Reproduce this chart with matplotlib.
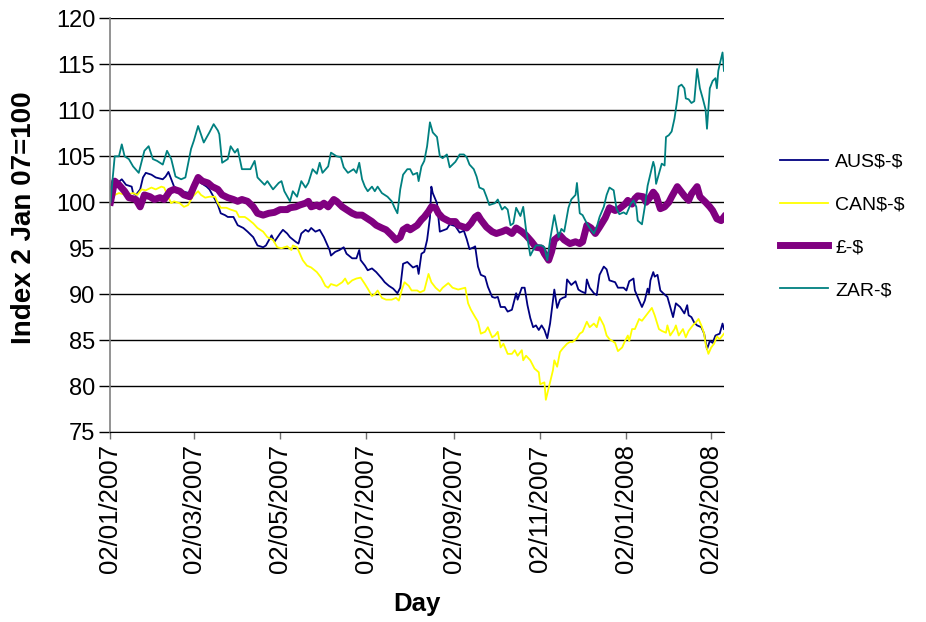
"""
Exchange rates against the US dollar, indexed to 2 Jan 2007 = 100.
"""

import matplotlib

matplotlib.use("Agg")
import matplotlib.dates as mdates
import matplotlib.pyplot as plt
import pandas as pd

plt.rcParams["font.family"] = ["Liberation Sans", "DejaVu Sans"]

START = pd.Timestamp("2007-01-02")
END_DAY = 434

# day offsets from 2 Jan 2007 and index values, one pair of lists per currency
aus_day = [0, 3, 5, 8, 11, 15, 16, 18, 21, 23, 25, 29, 32, 37, 39, 41, 43, 45, 50, 56,
           62, 65, 68, 70, 74, 76, 78, 81, 83, 87, 90, 94, 97, 101, 104, 108, 110, 114,
           116, 120, 122, 125, 127, 131, 133, 135, 138, 140, 142, 145, 148, 151, 153,
           155, 156, 159, 162, 165, 167, 171, 174, 176, 177, 180, 182, 185, 188, 192,
           194, 197, 200, 203, 205, 207, 210, 212, 214, 217, 218, 220, 222, 224, 226,
           227, 228, 231, 233, 238, 240, 244, 247, 250, 252, 254, 257, 258, 260, 262,
           265, 267, 270, 272, 274, 276, 279, 281, 284, 287, 288, 291, 293, 295, 297,
           299, 301, 303, 305, 307, 309, 311, 314, 316, 318, 320, 322, 323, 326, 329,
           331, 333, 336, 337, 339, 342, 344, 346, 349, 351, 353, 357, 359, 363, 365,
           367, 370, 371, 374, 376, 378, 380, 381, 382, 384, 385, 387, 389, 391, 394,
           396, 398, 400, 403, 406, 408, 409, 411, 413, 415, 418, 420, 422, 424, 426,
           428, 431, 433, 434]
aus_val = [100.0, 101.9, 102.1, 102.5, 101.9, 101.7, 101.0, 100.8, 101.4, 102.7, 103.2,
           103.0, 102.7, 102.5, 102.8, 103.3, 102.5, 101.7, 101.2, 101.0, 102.3, 102.0,
           101.7, 101.4, 100.3, 99.7, 98.8, 98.6, 98.4, 98.4, 97.5, 97.2, 96.8, 96.2,
           95.3, 95.1, 95.3, 96.4, 95.7, 96.6, 97.0, 96.6, 96.2, 95.7, 95.5, 96.6, 97.0,
           96.8, 97.2, 96.8, 97.0, 96.2, 95.5, 94.8, 94.2, 94.6, 94.8, 95.1, 94.4, 93.9,
           93.9, 94.8, 93.7, 93.1, 92.6, 92.8, 92.4, 91.7, 91.3, 90.9, 90.6, 90.1, 90.7,
           93.3, 93.5, 93.2, 92.9, 93.1, 92.2, 94.4, 94.6, 95.9, 98.3, 101.7, 101.0,
           99.9, 96.8, 97.1, 97.6, 97.4, 96.7, 96.9, 96.0, 94.9, 95.1, 95.2, 93.0, 92.1,
           91.9, 90.8, 89.7, 89.6, 89.7, 88.6, 88.6, 88.1, 88.3, 90.1, 89.4, 90.7, 90.7,
           88.8, 87.4, 86.4, 86.6, 86.1, 86.6, 86.1, 85.2, 86.8, 90.5, 88.5, 89.4, 89.6,
           89.7, 91.6, 91.0, 91.4, 90.5, 90.3, 90.1, 91.6, 90.7, 90.1, 89.9, 92.1, 93.0,
           92.7, 91.5, 91.3, 90.7, 90.7, 90.4, 91.4, 91.7, 90.4, 89.3, 88.6, 89.3, 90.6,
           90.1, 91.5, 92.4, 91.9, 92.1, 90.4, 90.1, 89.7, 88.6, 87.5, 89.0, 88.6, 87.9,
           88.8, 87.7, 87.5, 86.9, 86.6, 86.4, 85.7, 84.0, 84.9, 84.7, 85.5, 85.7, 86.8,
           86.2]

can_day = [0, 3, 6, 11, 16, 19, 22, 25, 29, 32, 36, 38, 41, 43, 45, 49, 52, 55, 58, 62,
           64, 67, 70, 74, 76, 78, 82, 85, 89, 91, 95, 97, 101, 104, 108, 111, 115, 118,
           121, 125, 128, 129, 132, 134, 136, 139, 142, 146, 149, 152, 154, 156, 160,
           164, 166, 168, 171, 174, 177, 180, 182, 185, 187, 189, 192, 195, 199, 202,
           204, 206, 208, 211, 213, 217, 219, 222, 225, 227, 230, 233, 235, 239, 242,
           246, 251, 253, 255, 258, 260, 262, 265, 267, 270, 272, 274, 276, 278, 281,
           284, 286, 288, 291, 292, 294, 297, 300, 303, 304, 307, 308, 311, 313, 314,
           316, 318, 320, 323, 325, 327, 330, 332, 334, 337, 339, 342, 344, 346, 349,
           351, 353, 357, 359, 362, 364, 366, 367, 369, 371, 374, 376, 378, 381, 383,
           385, 388, 390, 393, 394, 396, 399, 400, 402, 405, 407, 409, 412, 414, 416,
           418, 420, 421, 423, 425, 427, 429, 431, 433, 434]
can_val = [100.0, 100.8, 101.0, 100.8, 101.0, 100.8, 101.4, 101.3, 101.6, 101.4, 101.7,
           101.6, 100.5, 99.9, 100.1, 99.9, 99.5, 99.7, 100.6, 101.2, 100.8, 100.5,
           100.6, 100.6, 99.9, 99.4, 99.4, 99.2, 99.0, 98.4, 98.4, 98.2, 97.7, 97.2,
           96.8, 96.2, 95.9, 95.1, 95.0, 95.2, 94.8, 95.3, 95.1, 94.4, 93.7, 93.1, 92.9,
           92.4, 91.8, 90.9, 90.7, 91.1, 90.9, 91.3, 91.7, 91.1, 91.5, 91.7, 91.8, 91.1,
           90.6, 89.8, 90.0, 90.4, 89.6, 89.4, 89.4, 89.6, 89.3, 90.4, 91.3, 90.9, 90.4,
           90.4, 90.2, 90.4, 92.2, 91.3, 90.7, 90.3, 90.7, 91.2, 90.7, 90.5, 90.7, 89.0,
           88.3, 87.5, 87.0, 85.7, 85.9, 86.4, 85.3, 85.5, 85.9, 84.2, 84.6, 83.5, 83.5,
           83.9, 83.3, 83.9, 82.8, 83.3, 82.8, 81.9, 81.5, 80.2, 80.4, 78.5, 80.4, 81.7,
           82.8, 82.1, 83.7, 84.1, 84.6, 84.8, 84.8, 85.2, 85.7, 85.9, 87.0, 86.4, 86.8,
           86.4, 87.5, 86.6, 85.5, 85.1, 84.7, 83.8, 84.2, 84.9, 85.5, 84.9, 86.2, 86.2,
           87.3, 87.1, 87.5, 88.1, 88.5, 87.7, 86.2, 86.0, 85.8, 86.6, 85.5, 86.2, 86.6,
           85.5, 86.2, 85.3, 86.0, 86.6, 86.9, 87.3, 86.6, 85.7, 84.6, 83.5, 84.2, 84.6,
           85.4, 85.1, 85.5, 85.7]

gbp_day = [0, 3, 6, 10, 13, 18, 21, 24, 28, 31, 35, 38, 42, 45, 49, 52, 56, 59, 62, 65,
           69, 72, 76, 79, 83, 87, 90, 93, 97, 101, 104, 108, 112, 116, 120, 125, 127,
           131, 134, 138, 140, 142, 146, 148, 151, 154, 158, 160, 164, 167, 171, 174,
           178, 181, 185, 188, 192, 195, 199, 202, 205, 207, 210, 212, 214, 217, 220,
           222, 225, 227, 230, 232, 235, 240, 244, 246, 248, 252, 255, 258, 260, 262,
           266, 270, 273, 277, 280, 284, 287, 291, 294, 298, 301, 305, 307, 310, 312,
           314, 318, 321, 325, 329, 332, 334, 337, 340, 343, 346, 350, 353, 357, 360,
           364, 366, 369, 371, 373, 377, 379, 382, 384, 386, 389, 392, 395, 397, 401,
           403, 406, 409, 411, 415, 417, 421, 424, 426, 429, 432, 434]
gbp_val = [100.0, 102.3, 101.9, 101.2, 100.5, 100.3, 99.5, 100.8, 100.6, 100.3, 100.5,
           100.3, 101.2, 101.4, 101.2, 100.8, 100.6, 101.7, 102.7, 102.3, 102.1, 101.7,
           101.4, 100.8, 100.5, 100.3, 100.1, 100.3, 100.1, 99.5, 98.8, 98.6, 98.8, 98.9,
           99.2, 99.2, 99.4, 99.5, 99.7, 99.9, 100.1, 99.5, 99.7, 99.5, 99.9, 99.5,
           100.3, 100.1, 99.5, 99.2, 98.8, 98.6, 98.6, 98.3, 97.9, 97.5, 97.2, 97.0,
           96.4, 95.9, 96.2, 97.0, 97.3, 97.0, 97.2, 97.5, 98.1, 98.4, 99.0, 99.5, 99.4,
           98.8, 98.3, 97.9, 97.9, 97.5, 97.4, 97.2, 97.7, 98.4, 98.6, 98.1, 97.3, 96.8,
           96.6, 96.8, 97.0, 96.6, 97.2, 96.8, 96.4, 95.7, 95.1, 95.0, 94.4, 93.7, 94.6,
           95.9, 96.4, 95.9, 95.5, 95.7, 95.5, 95.7, 97.5, 97.2, 96.6, 97.3, 98.3, 99.4,
           99.1, 99.3, 99.8, 100.2, 99.8, 100.4, 100.7, 100.6, 100.0, 100.6, 101.1,
           100.7, 99.3, 99.5, 100.0, 100.6, 101.7, 101.3, 100.7, 100.2, 100.9, 101.7,
           100.6, 100.0, 99.5, 99.1, 98.2, 98.0, 98.4]

zar_day = [0, 3, 6, 8, 10, 13, 16, 20, 24, 27, 30, 33, 37, 40, 43, 46, 50, 53, 57, 59,
           62, 64, 66, 70, 73, 76, 77, 79, 83, 85, 88, 90, 93, 99, 102, 104, 109, 111,
           115, 119, 121, 123, 127, 129, 132, 135, 138, 140, 143, 146, 148, 150, 154,
           156, 160, 163, 165, 168, 172, 174, 176, 178, 180, 182, 185, 187, 189, 192,
           194, 196, 199, 201, 203, 205, 207, 210, 212, 214, 217, 218, 220, 222, 224,
           226, 228, 231, 233, 235, 238, 240, 244, 246, 247, 250, 252, 254, 257, 259,
           261, 264, 266, 268, 272, 274, 277, 279, 281, 283, 285, 287, 290, 292, 294,
           297, 299, 301, 305, 307, 309, 311, 314, 317, 319, 321, 324, 326, 329, 330,
           332, 334, 337, 339, 342, 344, 346, 349, 351, 353, 356, 358, 360, 363, 365,
           368, 370, 372, 373, 376, 378, 380, 382, 384, 385, 386, 388, 390, 392, 393,
           395, 397, 399, 401, 402, 404, 406, 407, 409, 411, 413, 415, 417, 419, 421,
           422, 423, 424, 426, 428, 429, 430, 431, 433, 434]
zar_val = [100.0, 105.0, 105.0, 106.3, 105.0, 104.7, 103.9, 103.2, 105.6, 106.1, 104.7,
           104.5, 104.1, 105.6, 104.7, 102.8, 102.5, 102.7, 105.8, 106.7, 108.3, 107.4,
           106.5, 107.6, 108.5, 107.8, 107.4, 104.3, 104.7, 106.1, 105.4, 105.8, 103.6,
           103.6, 104.5, 102.7, 101.9, 102.3, 101.4, 102.1, 102.3, 101.2, 100.1, 101.2,
           100.6, 102.3, 101.6, 102.1, 103.6, 103.1, 104.3, 103.2, 103.9, 105.4, 105.0,
           104.9, 103.8, 103.2, 103.6, 103.2, 104.3, 102.5, 101.7, 101.2, 101.7, 101.2,
           101.7, 101.0, 100.8, 100.6, 100.1, 99.4, 98.8, 101.4, 103.0, 103.6, 103.6,
           103.0, 103.2, 102.3, 103.9, 104.5, 106.1, 108.7, 107.6, 107.1, 105.0, 104.8,
           105.2, 103.8, 104.4, 104.9, 105.2, 105.2, 104.9, 104.1, 103.6, 102.8, 101.6,
           101.4, 100.6, 99.7, 99.9, 100.3, 99.2, 99.5, 99.2, 97.5, 97.7, 99.4, 98.5,
           99.5, 97.0, 94.2, 94.8, 95.3, 95.3, 95.1, 93.7, 95.9, 98.6, 96.2, 97.1, 96.8,
           99.4, 100.3, 100.8, 102.1, 98.8, 98.6, 97.7, 97.2, 96.6, 97.3, 98.4, 99.5,
           100.8, 101.6, 101.3, 99.3, 98.7, 98.9, 98.7, 99.8, 100.2, 99.5, 98.0, 97.6,
           99.5, 101.8, 103.1, 104.4, 103.8, 102.0, 103.1, 104.2, 104.0, 107.1, 107.3,
           107.7, 109.1, 111.2, 112.6, 112.8, 112.4, 111.3, 111.2, 110.8, 111.0, 114.5,
           112.4, 111.3, 110.1, 108.0, 110.2, 112.4, 113.2, 113.5, 112.4, 114.3, 115.0,
           116.3, 114.3]

# "$" is escaped so matplotlib does not read the labels as mathtext
SERIES = [
    (r"AUS\$-\$", aus_day, aus_val, "#000080", 1.3),
    (r"CAN\$-\$", can_day, can_val, "#FFFF00", 1.3),
    (r"£-\$", gbp_day, gbp_val, "#800080", 5.0),
    (r"ZAR-\$", zar_day, zar_val, "#008080", 1.3),
]


def to_dates(days):
    return START + pd.to_timedelta(days, unit="D")


def main() -> None:
    fig = plt.figure(figsize=(9.26, 6.22), dpi=100)
    ax = fig.add_axes([0.1193, 0.3055, 0.6625, 0.6648])

    handles = []
    for label, days, values, color, width in SERIES:
        (line,) = ax.plot(to_dates(days), values, color=color, linewidth=width,
                          label=label, solid_joinstyle="round")
        handles.append(line)

    ax.set_xlim(START, START + pd.Timedelta(days=END_DAY))
    ax.set_ylim(75, 120)
    ax.set_yticks(range(75, 121, 5))

    tick_dates = pd.to_datetime([
        "2007-01-02", "2007-03-02", "2007-05-02", "2007-07-02",
        "2007-09-02", "2007-11-02", "2008-01-02", "2008-03-02",
    ])
    ax.set_xticks(tick_dates)
    ax.xaxis.set_major_formatter(mdates.DateFormatter("%d/%m/%Y"))

    ax.yaxis.grid(True, color="black", linewidth=1.0)
    ax.set_axisbelow(True)
    for side in ("top", "right"):
        ax.spines[side].set_visible(False)
    ax.spines["left"].set_color("#808080")
    ax.spines["left"].set_linewidth(1.2)
    ax.spines["bottom"].set_color("black")

    ax.tick_params(axis="y", direction="out", length=8, width=1, color="black",
                   labelsize=17, pad=3)
    ax.tick_params(axis="x", direction="out", length=5, width=1, color="#707070",
                   labelsize=18.5, labelrotation=90, pad=4)

    fig.text(24 / 926, 1 - 218 / 622, "Index 2 Jan 07=100", rotation=90,
             ha="center", va="center", fontsize=20, fontweight="bold")
    fig.text(417 / 926, 1 - 604 / 622, "Day", ha="center", va="center",
             fontsize=18.5, fontweight="bold")

    fig.legend(handles=handles, loc="center left",
               bbox_to_anchor=(772 / 926, 1 - 226 / 622), frameon=False,
               fontsize=14, handlelength=2.5, handletextpad=0.35,
               labelspacing=1.3, borderaxespad=0)

    fig.savefig("out.png", dpi=100)
    plt.close(fig)


if __name__ == "__main__":
    main()
